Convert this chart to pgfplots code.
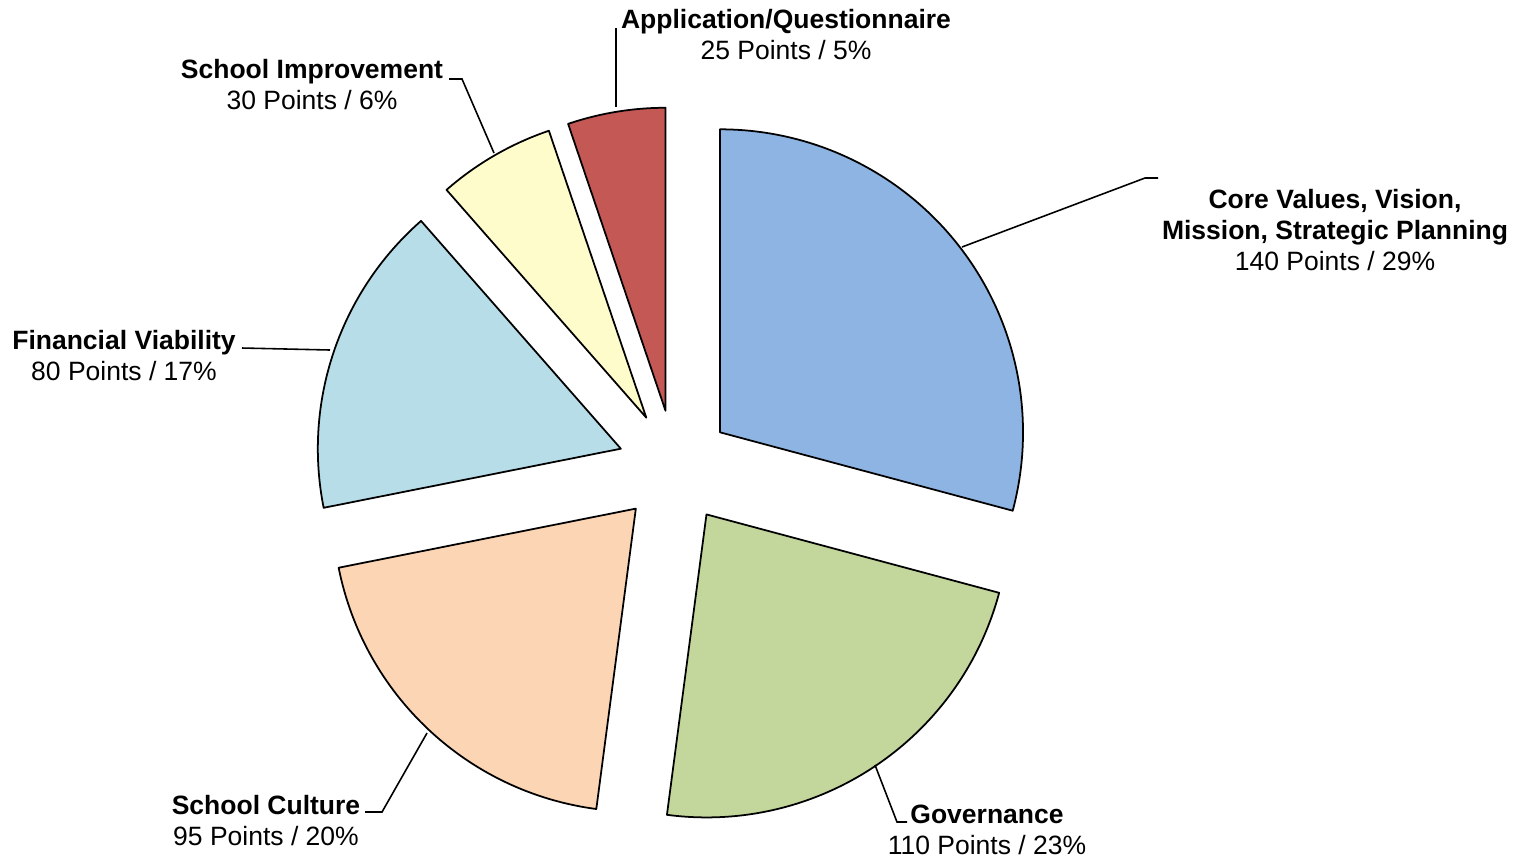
\documentclass[border=0pt]{standalone}
\usepackage{pgfplots}
\pgfplotsset{compat=1.18}
\usepackage{fontspec}
\setmainfont{Liberation Sans}
\definecolor{ccore}{HTML}{8EB4E3}
\definecolor{cgov}{HTML}{C3D69B}
\definecolor{ccult}{HTML}{FCD5B5}
\definecolor{cfin}{HTML}{B7DDE8}
\definecolor{cimp}{HTML}{FFFCCB}
\definecolor{capp}{HTML}{C35855}
% values (points): start (cumulative), value, colour
\newcommand\slice[3]{%
  \pgfmathsetmacro\sa{90-#1/480*360}%
  \pgfmathsetmacro\ea{90-(#1+#2)/480*360}%
  \pgfmathsetmacro\ma{(\sa+\ea)/2}%
  \pgfmathsetmacro\vx{674.8+57*cos(\ma)}%
  \pgfmathsetmacro\vy{391+57*sin(\ma)}%
  \edef\next{\noexpand\filldraw[fill=#3, draw=black, line width=0.5pt, line join=round]
    (axis cs:\vx,\vy) -- ++(\sa:3.03cm) arc[start angle=\sa, end angle=\ea, radius=3.03cm] -- cycle;}%
  \next}
\begin{document}
\begin{tikzpicture}
\begin{axis}[
  width=15.3cm, height=8.58cm, scale only axis,
  xmin=0, xmax=1530, ymin=0, ymax=858,
  hide axis, clip=false]
\path (axis cs:0,0) rectangle (axis cs:1530,858);
\slice{0}{140}{ccore}
\slice{140}{110}{cgov}
\slice{250}{95}{ccult}
\slice{345}{80}{cfin}
\slice{425}{30}{cimp}
\slice{455}{25}{capp}
% leader lines
\draw[line width=0.45pt] (axis cs:962,611) -- (axis cs:1145,680) -- (axis cs:1158,680);
\draw[line width=0.45pt] (axis cs:875,93) -- (axis cs:897,36) -- (axis cs:907,36);
\draw[line width=0.45pt] (axis cs:427,125) -- (axis cs:382,46) -- (axis cs:365,46);
\draw[line width=0.45pt] (axis cs:330,508) -- (axis cs:242,510);
\draw[line width=0.45pt] (axis cs:494,705) -- (axis cs:462,779) -- (axis cs:449,779);
\draw[line width=0.45pt] (axis cs:616,751) -- (axis cs:616,830);
% labels
\tikzset{lab/.style={align=center, inner sep=0pt, font=\fontsize{7.54pt}{8.82pt}\selectfont}}
\node[lab] at (axis cs:1335,628) {\textbf{Core Values, Vision,}\\\textbf{Mission, Strategic Planning}\\140 Points / 29\%};
\node[lab] at (axis cs:987,28) {\textbf{Governance}\\110 Points / 23\%};
\node[lab] at (axis cs:266,37) {\textbf{School Culture}\\95 Points / 20\%};
\node[lab] at (axis cs:124,502.5) {\textbf{Financial Viability}\\80 Points / 17\%};
\node[lab] at (axis cs:312,773) {\textbf{School Improvement}\\30 Points / 6\%};
\node[lab] at (axis cs:786,823) {\textbf{Application/Questionnaire}\\25 Points / 5\%};
\end{axis}
\end{tikzpicture}
\end{document}
